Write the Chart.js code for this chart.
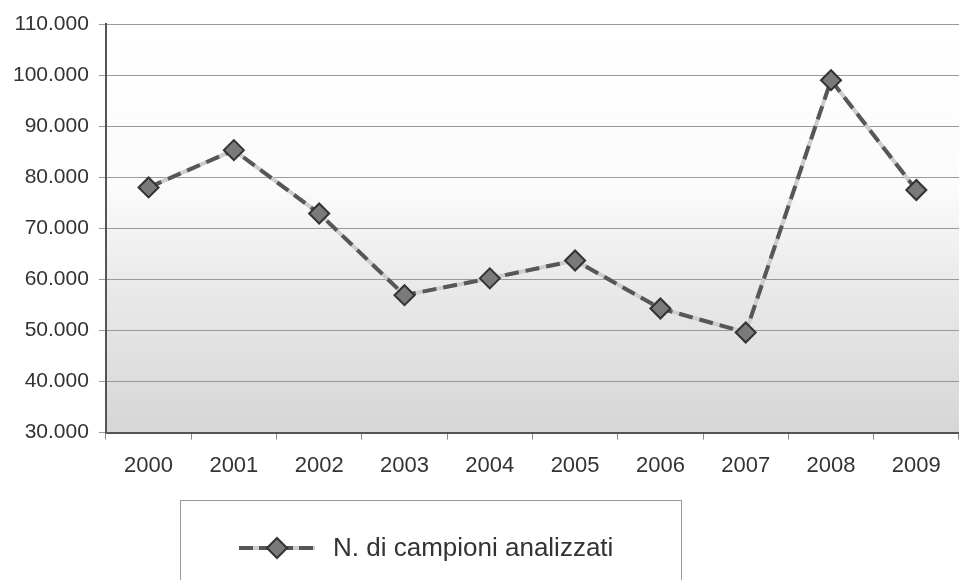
<!DOCTYPE html>
<html>
<head>
<meta charset="utf-8">
<script src="https://cdn.jsdelivr.net/npm/chart.js@4/dist/chart.umd.min.js"></script>
<style>
  html, body { margin: 0; padding: 0; background: #fff; }
  #wrap { position: relative; width: 959px; height: 580px; overflow: hidden; }
  #legend {
    position: absolute; left: 180px; top: 500px; width: 502px; height: 120px;
    border: 1px solid #9a9a9a; box-sizing: border-box;
    font-family: "Liberation Sans", Arial, sans-serif; font-size: 26px; color: #333;
  }
  #legend svg { position: absolute; left: 57px; top: 35px; }
  #legend span { position: absolute; left: 152px; top: 31px; white-space: nowrap; }
</style>
</head>
<body>
<div id="wrap">
  <canvas id="chart" width="959" height="580"></canvas>
  <div id="legend">
    <svg width="78" height="24" viewBox="0 0 78 24">
      <line x1="1" y1="12" x2="77" y2="12" stroke="#cdcdcd" stroke-width="4"/>
      <line x1="1" y1="12" x2="77" y2="12" stroke="#555" stroke-width="4" stroke-dasharray="14 6"/>
      <polygon points="39,2 49,12 39,22 29,12" fill="#7a7a7a" stroke="#333" stroke-width="2"/>
    </svg>
    <span>N. di campioni analizzati</span>
  </div>
</div>
<script>
const anni = ['2000', '2001', '2002', '2003', '2004', '2005', '2006', '2007', '2008', '2009'];
const campioni = [78000, 85300, 72900, 56900, 60200, 63700, 54300, 49600, 99000, 77500];
const serieNome = 'N. di campioni analizzati';
const yMin = 30000, yMax = 110000, yStep = 10000;

// fondo sfumato dell'area del grafico
const sfondo = {
  id: 'sfondo',
  beforeDraw(chart) {
    const { ctx, chartArea: a } = chart;
    const g = ctx.createLinearGradient(0, a.top, 0, a.bottom);
    g.addColorStop(0, '#ffffff');
    g.addColorStop(0.4, '#fbfbfb');
    g.addColorStop(0.6, '#ececec');
    g.addColorStop(1, '#d6d6d6');
    ctx.save();
    ctx.fillStyle = g;
    ctx.fillRect(a.left, a.top, a.right - a.left, a.bottom - a.top);
    ctx.restore();
  }
};

const font = { family: '"Liberation Sans", Arial, sans-serif' };

new Chart(document.getElementById('chart'), {
  type: 'line',
  data: {
    labels: anni,
    datasets: [
      {
        label: serieNome,
        data: campioni,
        borderColor: '#575757',
        borderWidth: 4,
        borderDash: [14, 7],
        pointStyle: 'rectRot',
        pointRadius: 10,
        pointBackgroundColor: '#7a7a7a',
        pointBorderColor: '#333',
        pointBorderWidth: 2,
        tension: 0,
        order: 1
      },
      {
        label: 'fondo',
        data: campioni,
        borderColor: '#cdcdcd',
        borderWidth: 4,
        pointRadius: 0,
        tension: 0,
        order: 2
      }
    ]
  },
  options: {
    responsive: false,
    animation: false,
    layout: { autoPadding: false, padding: { left: 3, top: 24, right: 0, bottom: 88 } },
    plugins: {
      legend: { display: false },
      tooltip: { enabled: false }
    },
    scales: {
      x: {
        offset: true,
        grid: { offset: true, drawOnChartArea: false, drawTicks: true, tickLength: 7, color: '#888' },
        border: { display: true, color: '#555', width: 2 },
        ticks: { color: '#333', font: { ...font, size: 22 }, padding: 13, maxRotation: 0 }
      },
      y: {
        min: yMin,
        max: yMax,
        grid: { color: '#9a9a9a', lineWidth: 1, tickLength: 7 },
        border: { display: true, color: '#555', width: 2 },
        ticks: {
          stepSize: yStep,
          color: '#333',
          font: { ...font, size: 21 },
          padding: 10,
          callback: v => (v / 1000) + '.000'
        }
      }
    }
  },
  plugins: [sfondo]
});
</script>
</body>
</html>
